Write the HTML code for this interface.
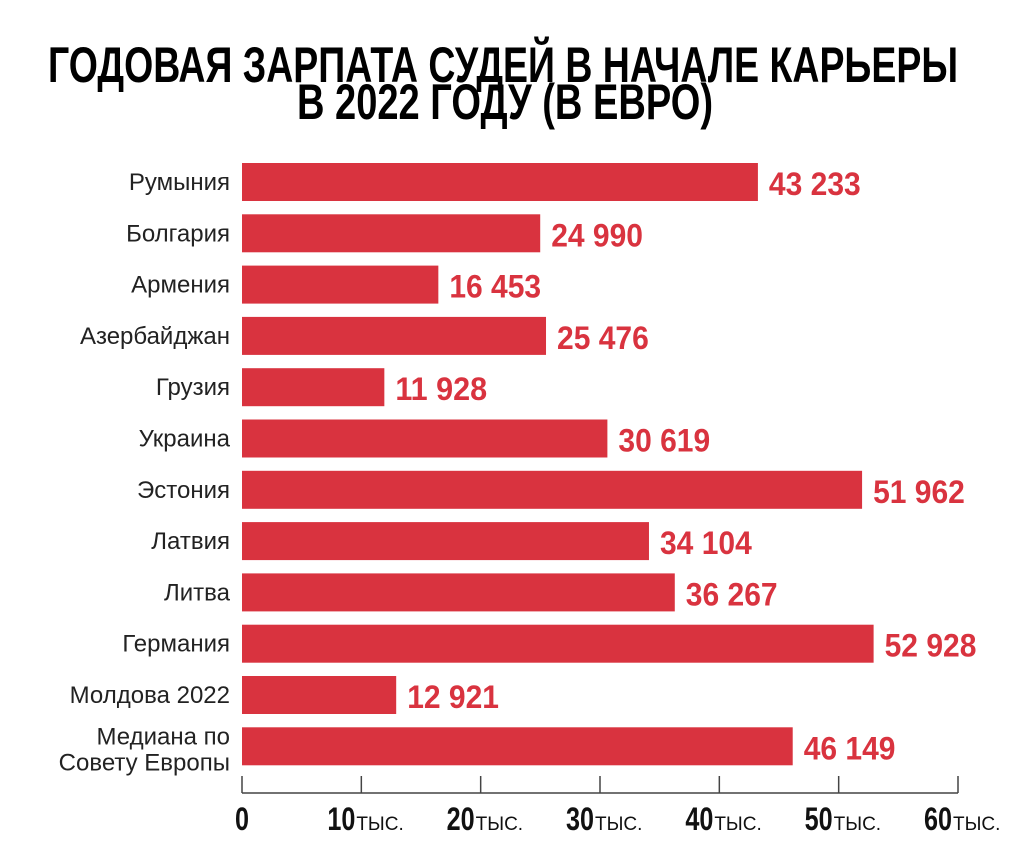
<!DOCTYPE html>
<html><head><meta charset="utf-8"><style>
html,body{margin:0;padding:0;background:#fff;}
svg{display:block;font-family:"Liberation Sans",sans-serif;}
</style></head><body>
<svg id="chart" width="1024" height="857" viewBox="0 0 1024 857">
<text x="503" y="82" text-anchor="middle" font-size="50" font-weight="bold" textLength="910" lengthAdjust="spacingAndGlyphs">ГОДОВАЯ ЗАРПАТА СУДЕЙ В НАЧАЛЕ КАРЬЕРЫ</text>
<text x="505" y="119" text-anchor="middle" font-size="50" font-weight="bold" textLength="416" lengthAdjust="spacingAndGlyphs">В 2022 ГОДУ (В ЕВРО)</text>
<g id="bars"></g>
<g id="axis"></g>
</svg>
<script>
const categories = ["Румыния","Болгария","Армения","Азербайджан","Грузия","Украина","Эстония","Латвия","Литва","Германия","Молдова 2022","Медиана по|Совету Европы"];
const values = [43233,24990,16453,25476,11928,30619,51962,34104,36267,52928,12921,46149];
const tickValues = [0,10000,20000,30000,40000,50000,60000];
const tickLabels = ["0","10","20","30","40","50","60"];

const NS="http://www.w3.org/2000/svg";
const x0=242, x1=958, xMax=60000;
const xs=v=>x0+(v/xMax)*(x1-x0);
const rowTop=163, rowStep=51.3, barH=38;
const ys=i=>rowTop+i*rowStep;
const red="#d9333f";
function mk(tag,attrs,parent){const e=document.createElementNS(NS,tag);for(const k in attrs)e.setAttribute(k,attrs[k]);parent.appendChild(e);return e;}
const bars=document.getElementById('bars');
const fmt=v=>String(v).replace(/\B(?=(\d{3})+(?!\d))/g," ");
categories.forEach((c,i)=>{
  const y=ys(i);
  const r=mk('rect',{x:x0,y:y,width:xs(values[i])-x0,height:barH,fill:red},bars);
  
  
  const lines=c.split('|');
  lines.forEach((ln,j)=>{
    const t=mk('text',{x:230,y:lines.length>1?y+barH/2-2+j*26:y+barH/2+8,'text-anchor':'end','font-size':24,fill:'#222'},bars);
    
    
    t.textContent=ln;
  });
  const s=fmt(values[i]);
  const v=mk('text',{x:xs(values[i])+11,y:y+barH/2+13,'font-size':32,'font-weight':'bold',fill:red,textLength:s.length*15.3,lengthAdjust:'spacingAndGlyphs'},bars);
  
  
  v.textContent=s;
});
const axis=document.getElementById('axis');
const al=mk('line',{x1:x0,x2:x1,y1:793,y2:793,stroke:'#444','stroke-width':1.5},axis);


tickValues.forEach((v,i)=>{
  const x=xs(v);
  const tk=mk('line',{x1:x,x2:x,y1:776,y2:793,stroke:'#444','stroke-width':1.5},axis);
  
  
  const lab=tickLabels[i];
  const t=mk('text',{x:v===0?x:x-34,y:830,'text-anchor':v===0?'middle':'start','font-size':32,'font-weight':'bold',fill:'#111'},axis);
  
  
  const ts=mk('tspan',{textLength:lab.length*14,lengthAdjust:'spacingAndGlyphs'},t);
  ts.textContent=lab;
  if(v!==0){
    const u=mk('tspan',{'font-size':19,'font-weight':'normal',dx:1},t);
    u.textContent='ТЫС.';
  }
});
</script>
</body></html>
